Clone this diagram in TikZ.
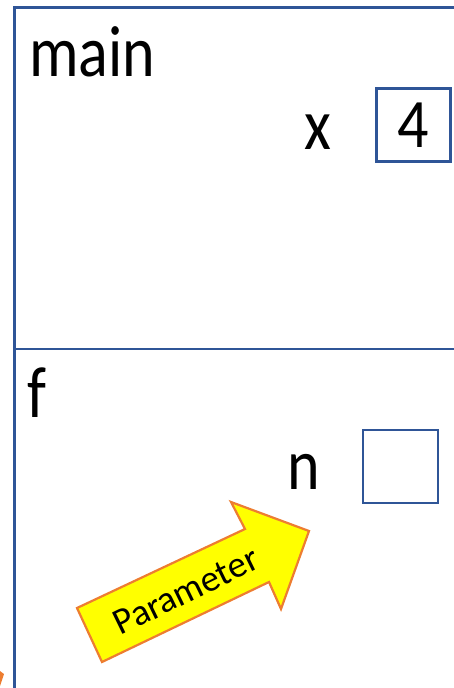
\documentclass[tikz,border=0pt]{standalone}
\usepackage{fontspec}
\setmainfont{Carlito}
\definecolor{frameblue}{HTML}{2F5597}
\definecolor{arroworange}{HTML}{ED7D31}
\definecolor{arrowyellow}{HTML}{FFFF00}
\newcommand{\tallText}[2][1.17]{\scalebox{1}[#1]{#2}}
\tikzset{
  frameline/.style={draw=frameblue, line width=2.4pt},
  bigtext/.style={font=\fontsize{62}{62}\selectfont, inner sep=0pt, text=black},
  valbox/.style={draw=frameblue, line width=2.4pt, minimum width=74pt, minimum height=73pt, inner sep=0pt, font=\fontsize{62}{62}\selectfont},
  callout/.style={fill=arrowyellow, draw=arroworange, line width=2.2pt, line join=miter},
}
\begin{document}
\begin{tikzpicture}[x=1pt,y=-1pt]
\useasboundingbox (0,0) rectangle (454,688);
% frame
\draw[frameline] (14.5,688) -- (14.5,7.5) -- (454,7.5);
\draw[frameline] (14.5,349) -- (454,349);
% main frame
\node[bigtext, anchor=base west] (mainlbl) at (29,76) {\tallText{main}};
\node[bigtext, anchor=base] (xlbl) at (318,149) {\tallText{x}};
\node[valbox] (xbox) at (413.5,125) {};
\node[bigtext, anchor=base] (xval) at (xbox.center |- 0,147) {\tallText[1.12]{4}};
% f frame
\node[bigtext, anchor=base west] (flbl) at (27,417) {\tallText{f}};
\node[bigtext, anchor=base] (nlbl) at (304,489) {\tallText{n}};
\node[valbox, minimum width=75pt] (nbox) at (400.5,466.5) {};
% parameter arrow
\draw[callout] (102,662) -- (77,608) -- (245,529) -- (231,502) -- (309,531) -- (281,609) -- (269,582) -- cycle;
\node[font=\fontsize{37}{37}\selectfont, rotate=26, inner sep=0pt] (paramlbl) at (186,591) {Parameter};
% cut-off orange mark at bottom-left
\fill[arroworange] (0,671) -- (4,674) -- (0,686) -- cycle;
\end{tikzpicture}
\end{document}
